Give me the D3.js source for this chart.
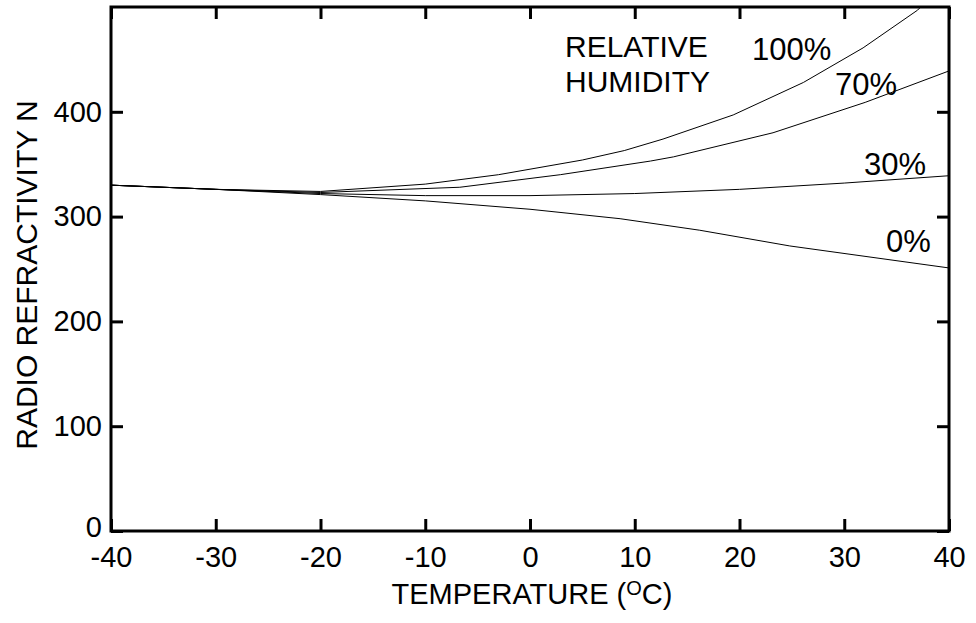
<!DOCTYPE html>
<html>
<head>
  <meta charset="UTF-8">
  <style>
    body {
      margin: 0;
      padding: 0;
      background-color: #ffffff;
      font-family: "Liberation Sans", Arial, sans-serif;
    }
    svg text {
      fill: #000;
    }
  </style>
</head>
<body>
<svg></svg>
<script src="https://d3js.org/d3.v7.min.js"></script>
<script>
let width = 976, height = 623;

// readings: [temperature C, refractivity N]
let rh0 = [[-40, 330], [-30, 326], [-20, 321], [-10, 315], [0, 307], [8.6, 298], [16.2, 287], [24.8, 272], [40, 251]];
let rh30 = [[-40, 330], [-30, 326], [-20, 322], [-10, 320], [0, 320], [10, 322], [20, 326], [30, 332], [40, 339]];
let rh70 = [[-40, 330], [-30, 326], [-20, 323], [-10.5, 326.6], [-6.7, 328], [2.9, 340], [11.5, 353], [13.7, 357], [23.2, 380], [32, 409], [40, 439]];
let rh100 = [[-40, 330], [-30, 326], [-20, 324], [-10, 331], [-3, 340], [5, 354], [9, 363], [12.7, 374], [19.4, 397], [26.1, 428], [31.8, 461], [37, 497], [40, 527]];

let series = [rh0, rh30, rh70, rh100];
let seriesLabels = ["0%", "30%", "70%", "100%"];
let xTicks = [-40, -30, -20, -10, 0, 10, 20, 30, 40];
let yTicks = [0, 100, 200, 300, 400];

let mLeft = 111, mRight = 949, mTop = 7, mBottom = 531;

let svg = d3.select("svg")
    .attr("width", width)
    .attr("height", height);

let x = d3.scaleLinear().domain([-40, 40]).range([mLeft, mRight]);
let y = d3.scaleLinear().domain([0, 500]).range([mBottom, mTop]);

svg.append("defs").append("clipPath")
    .attr("id", "plot-clip")
    .append("rect")
    .attr("x", mLeft).attr("y", mTop)
    .attr("width", mRight - mLeft).attr("height", mBottom - mTop);

// axes with inward ticks
let xAxis = svg.append("g")
    .attr("transform", `translate(0,${mBottom})`)
    .call(d3.axisBottom(x).tickValues(xTicks).tickSize(-12).tickPadding(15).tickFormat(d => d));

let xTop = svg.append("g")
    .attr("transform", `translate(0,${mTop})`)
    .call(d3.axisTop(x).tickValues(xTicks).tickSize(-12).tickFormat(""));

let yAxis = svg.append("g")
    .attr("transform", `translate(${mLeft},0)`)
    .call(d3.axisLeft(y).tickValues(yTicks).tickSize(-12).tickPadding(9));

let yRight = svg.append("g")
    .attr("transform", `translate(${mRight},0)`)
    .call(d3.axisRight(y).tickValues(yTicks).tickSize(-12).tickFormat(""));

[xAxis, xTop, yAxis, yRight].forEach(g => {
    g.select(".domain").remove();
    g.selectAll(".tick line").attr("stroke", "#000").attr("stroke-width", 3);
    g.selectAll(".tick text")
        .attr("font-family", '"Liberation Sans", Arial, sans-serif')
        .attr("font-size", 29)
        .attr("fill", "#000");
});

// lift the "0" label a little off the corner
yAxis.selectAll(".tick text").filter(d => d === 0).attr("dy", "0.2em");

// frame
svg.append("rect")
    .attr("x", mLeft).attr("y", mTop)
    .attr("width", mRight - mLeft).attr("height", mBottom - mTop)
    .attr("fill", "none")
    .attr("stroke", "#000")
    .attr("stroke-width", 3);

// curves
let line = d3.line()
    .x(d => x(d[0]))
    .y(d => y(d[1]));

svg.append("g")
    .attr("clip-path", "url(#plot-clip)")
    .selectAll("path")
    .data(series)
    .enter()
    .append("path")
    .attr("d", line)
    .attr("fill", "none")
    .attr("stroke", "#000")
    .attr("stroke-width", 1);

// curve labels
let labelPos = [[886, 252], [864, 175], [835, 95], [752, 60]];
svg.append("g")
    .selectAll("text")
    .data(seriesLabels)
    .enter()
    .append("text")
    .attr("x", (d, i) => labelPos[i][0])
    .attr("y", (d, i) => labelPos[i][1])
    .attr("font-size", 31)
    .text(d => d);

svg.append("text")
    .attr("x", 565).attr("y", 57)
    .attr("font-size", 30)
    .text("RELATIVE");
svg.append("text")
    .attr("x", 565).attr("y", 92)
    .attr("font-size", 30)
    .text("HUMIDITY");

// axis titles
let xTitle = svg.append("text")
    .attr("x", 532).attr("y", 604)
    .attr("text-anchor", "middle")
    .attr("font-size", 29);
xTitle.append("tspan").text("TEMPERATURE (");
xTitle.append("tspan").attr("font-size", 20).attr("dy", -9).text("O");
xTitle.append("tspan").attr("dy", 9).text("C)");

svg.append("text")
    .attr("transform", "translate(37,275) rotate(-90)")
    .attr("text-anchor", "middle")
    .attr("font-size", 30)
    .text("RADIO REFRACTIVITY N");
</script>
</body>
</html>
